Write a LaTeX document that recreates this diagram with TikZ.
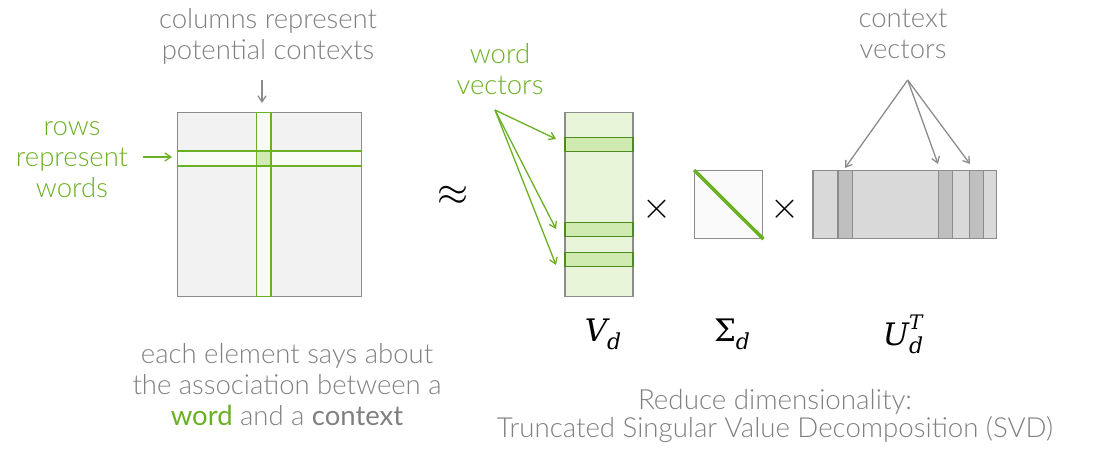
\documentclass[tikz,border=0pt]{standalone}
\usepackage{fontspec}
\setmainfont{Lato}[UprightFont=* Light, BoldFont=* Regular]
\newfontfamily\lblserif{DejaVu Serif}
\usetikzlibrary{arrows.meta}
\definecolor{gtext}{RGB}{128,128,128}
\definecolor{grn}{RGB}{106,176,35}
\definecolor{dgrn}{RGB}{78,138,30}
\definecolor{gline}{RGB}{140,140,140}
\definecolor{mfill}{RGB}{242,242,242}
\definecolor{vfill}{RGB}{232,245,216}
\definecolor{sfill}{RGB}{208,235,176}
\definecolor{ufill}{RGB}{217,217,217}
\definecolor{udark}{RGB}{191,191,191}
\tikzset{
  lbl/.style={font=\fontsize{27.5}{31}\selectfont, text=gtext, align=center, inner sep=0pt},
  glbl/.style={lbl, text=grn},
  mat/.style={draw=gline, line width=1.4pt, inner sep=0pt, anchor=north west},
  gstripe/.style={draw=grn, line width=1.4pt, inner sep=0pt, anchor=north west},
  vstripe/.style={draw=dgrn, line width=1.4pt, fill=sfill, inner sep=0pt, minimum width=68pt, minimum height=14.3pt, anchor=north west},
  ustripe/.style={mat, fill=udark, minimum height=67.7pt},
  garrow/.style={draw=grn, line width=1.3pt, -{Straight Barb[length=6pt,width=8pt]}},
  karrow/.style={draw=gline, line width=1.3pt, -{Straight Barb[length=6pt,width=8pt]}},
  mathlbl/.style={font=\lblserif\fontsize{31}{36}\selectfont, inner sep=0pt},
  opsym/.style={inner sep=0pt, font=\fontsize{24}{28}\selectfont},
}
\newcommand{\subd}{\raisebox{-8pt}{\fontsize{22}{24}\selectfont\itshape d}}
\begin{document}
\begin{tikzpicture}[x=1pt,y=-1pt]
\useasboundingbox (0,0) rectangle (1104,470);
% big matrix
\node[mat, fill=mfill, minimum width=184pt, minimum height=184pt] (M) at (177,112) {};
\node[gstripe, fill=grn!5, minimum width=184pt, minimum height=14.3pt] (row) at (177,150.7) {};
\node[gstripe, fill=grn!5, minimum width=14.5pt, minimum height=184pt] (col) at (255.7,112) {};
\node[gstripe, fill=sfill, minimum width=14.5pt, minimum height=14.3pt] (cell) at (255.7,150.7) {};
\draw[grn, line width=1.4pt] (row.north west) -- (row.north east) (row.south west) -- (row.south east);
% labels
\node[lbl] (coltxt) at (268,36) {columns represent\\potential contexts};
\coordinate (colA) at (262,80);
\coordinate (colB) at (262,103);
\draw[karrow] (colA) -- (colB);
\node[glbl] (rowtxt) at (72,160) {rows\\represent\\words};
\coordinate (rowA) at (143,157);
\coordinate (rowB) at (172,157);
\draw[garrow] (rowA) -- (rowB);
\node[opsym] (approx) at (453,196) {\scalebox{1.6}{$\approx$}};
% V_d
\node[mat, fill=vfill, minimum width=68pt, minimum height=184.3pt] (V) at (564.3,111.7) {};
\node[vstripe] (v1) at (564.3,136.7) {};
\node[vstripe] (v2) at (564.3,221.7) {};
\node[vstripe] (v3) at (564.3,251.7) {};
\node[glbl] (wvtxt) at (500,69) {word\\vectors};
\coordinate (wv) at (495,110);
\coordinate (wv1) at (556,139);
\coordinate (wv2) at (556,229);
\coordinate (wv3) at (556,265);
\draw[garrow] (wv) -- (wv1);
\draw[garrow] (wv) -- (wv2);
\draw[garrow] (wv) -- (wv3);
\node[opsym] (x1) at (657,209) {\scalebox{1.5}{$\times$}};
% Sigma
\node[mat, fill=black!2, minimum width=68pt, minimum height=67.7pt] (S) at (694,170) {};
\draw[grn, line width=3.5pt] (S.north west) -- (S.south east);
\node[opsym] (x2) at (785,209) {\scalebox{1.5}{$\times$}};
% U^T
\node[mat, fill=ufill, minimum width=183.7pt, minimum height=67.7pt] (U) at (812.3,170) {};
\node[ustripe, minimum width=14.4pt] (u1) at (837.3,170) {};
\node[ustripe, minimum width=14.3pt] (u2) at (937.7,170) {};
\node[ustripe, minimum width=14pt] (u3) at (968.7,170) {};
\node[lbl] (cvtxt) at (903,34) {context\\vectors};
\coordinate (cv) at (907.7,80);
\coordinate (cv1) at (845,168);
\coordinate (cv2) at (938,164);
\coordinate (cv3) at (970,164);
\draw[karrow] (cv) -- (cv1);
\draw[karrow] (cv) -- (cv2);
\draw[karrow] (cv) -- (cv3);
% math labels
\node[mathlbl] (Vl) at (603,334) {\itshape V\subd};
\node[mathlbl] (Sl) at (732,334) {Σ\subd};
\node[mathlbl] (Ul) at (903,334) {\itshape U\raisebox{-8pt}{\makebox[0pt][l]{\raisebox{24pt}{\fontsize{20}{22}\selectfont\itshape T}}\fontsize{22}{24}\selectfont\itshape d}};
% bottom texts
\node[lbl] (each) at (287,385) {each element says about\\the association between a\\{\bfseries\color{grn}word} and a {\bfseries context}};
\node[lbl] (svd) at (775,416) {\resizebox{274pt}{!}{Reduce dimensionality:}\\[-3pt]\resizebox{556pt}{!}{Truncated Singular Value Decomposition (SVD)}};
\end{tikzpicture}
\end{document}
